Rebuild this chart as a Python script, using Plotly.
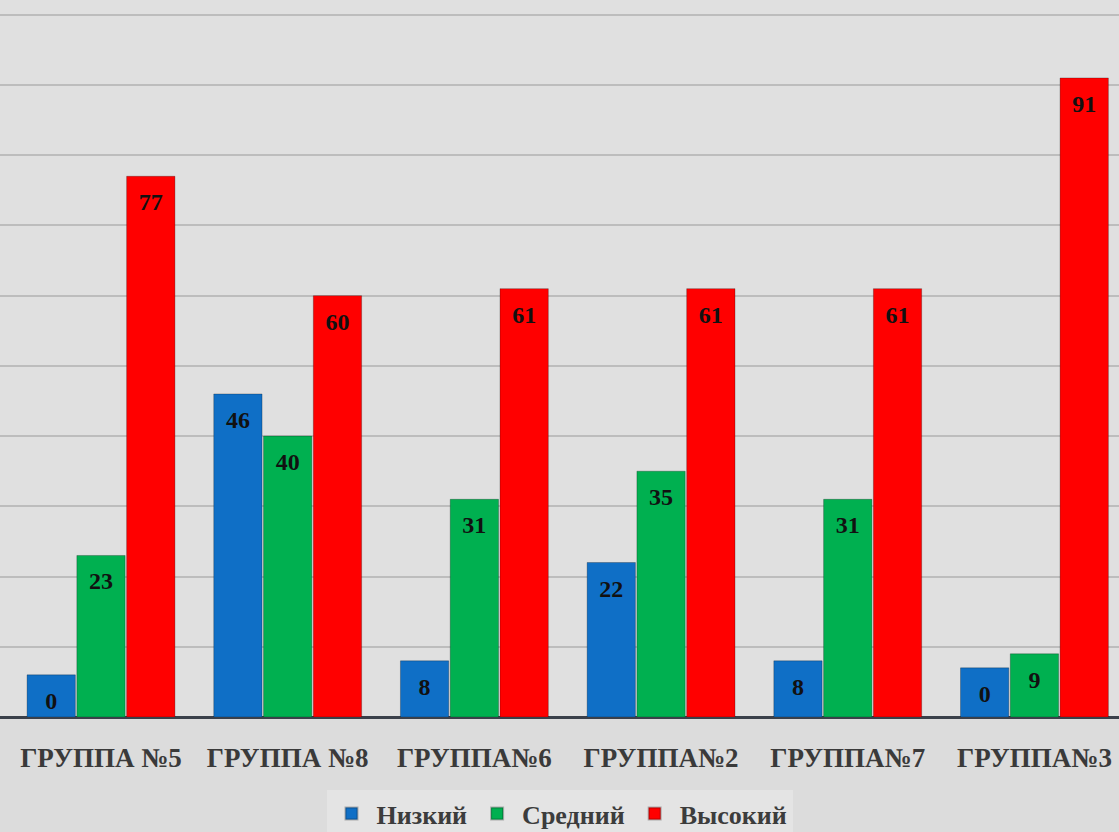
import plotly.graph_objects as go

groups = ["ГРУППА №5", "ГРУППА №8", "ГРУППА№6", "ГРУППА№2", "ГРУППА№7", "ГРУППА№3"]
series_names = ["Низкий", "Средний", "Высокий"]

# bar heights as drawn
low_vals = [6, 46, 8, 22, 8, 7]
mid_vals = [23, 40, 31, 35, 31, 9]
high_vals = [77, 60, 61, 61, 61, 91]

# printed data labels
low_labels = ["0", "46", "8", "22", "8", "0"]
mid_labels = ["23", "40", "31", "35", "31", "9"]
high_labels = ["77", "60", "61", "61", "61", "91"]

colors = ["#0F6FC6", "#00B050", "#FF0000"]

serif = "Liberation Serif, Times New Roman, serif"

fig = go.Figure()
all_vals = [low_vals, mid_vals, high_vals]
all_labels = [low_labels, mid_labels, high_labels]

for i, (name, vals, col) in enumerate(zip(series_names, all_vals, colors)):
    fig.add_trace(go.Bar(
        x=groups, y=vals, name=name,
        marker=dict(color=col, line=dict(color="rgba(0,0,0,0.25)", width=1)),
        offsetgroup=str(i),
        hoverinfo="skip",
    ))

for i, (vals, labels) in enumerate(zip(all_vals, all_labels)):
    fig.add_trace(go.Scatter(
        x=groups, y=vals, text=labels, mode="markers+text",
        textposition="bottom center",
        marker=dict(size=24, opacity=0),
        textfont=dict(family=serif, size=24, color="#111111", weight="bold"),
        showlegend=False, hoverinfo="skip",
        offsetgroup=str(i),
    ))

fig.update_layout(
    width=1119, height=832,
    margin=dict(l=0, r=0, t=0, b=115),
    paper_bgcolor="#dcdcdc",
    plot_bgcolor="#e0e0e0",
    barmode="group",
    scattermode="group",
    bargap=0.2,
    bargroupgap=0.03,
    scattergap=0.2,
    showlegend=True,
    legend=dict(
        orientation="h", x=0.5, xanchor="center",
        yref="container", y=0.022, yanchor="middle",
        bgcolor="#e4e4e4",
        font=dict(family=serif, size=26, color="#3c3c3c", weight="bold"),
        itemsizing="constant",
        itemwidth=40,
    ),
    xaxis=dict(
        range=[-0.541, 5.453],
        showgrid=False,
        ticks="",
        ticklabelstandoff=22,
        tickfont=dict(family=serif, size=27, color="#3a3a3a", weight="bold"),
        showline=False,
        fixedrange=True,
    ),
    yaxis=dict(
        range=[0, 102.1],
        dtick=10,
        showgrid=True, gridcolor="#bdbdbd", gridwidth=2,
        showticklabels=False,
        zeroline=True, zerolinecolor="#3a404a", zerolinewidth=3,
        fixedrange=True,
    ),
)

fig.write_html(
    "out.html",
    config={"displayModeBar": False, "staticPlot": True},
    post_script="document.body.style.margin='0px';document.body.style.overflow='hidden';",
)
